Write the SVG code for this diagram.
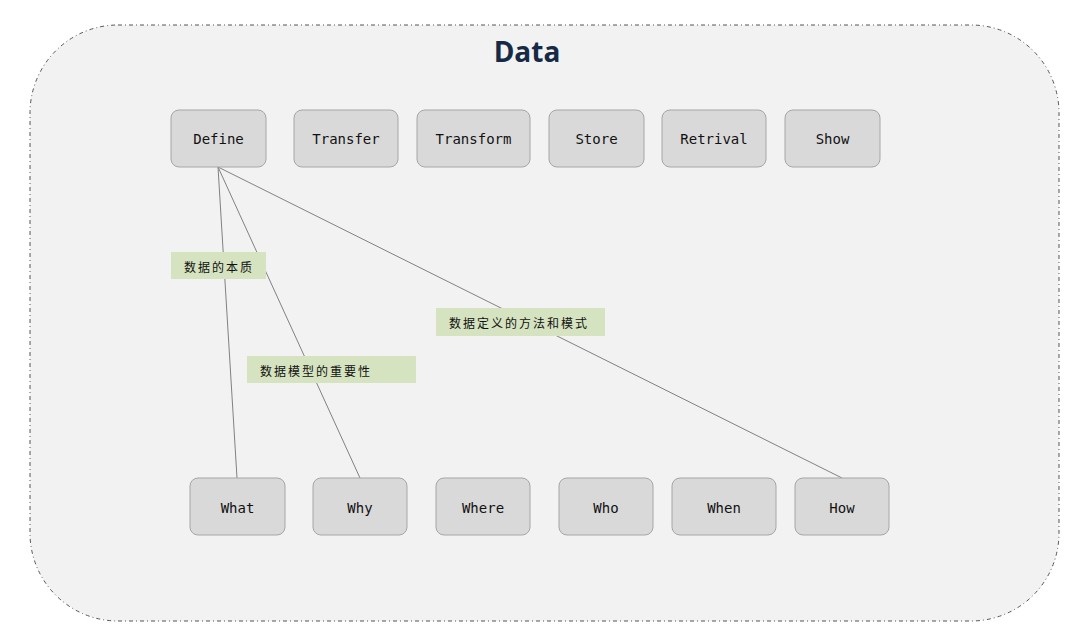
<svg xmlns="http://www.w3.org/2000/svg" width="1079" height="638" viewBox="0 0 1079 638">
<style>
.node rect{fill:#d9d9d9;stroke:#a6a6a6;stroke-width:1}
.node text{font-family:"DejaVu Sans Mono","Liberation Mono",monospace;font-size:14px;fill:#111;text-anchor:middle;dominant-baseline:central}
.lbl rect{fill:#d5e3c0;stroke:none}
.lbl text{font-family:"Noto Sans CJK SC","Noto Sans CJK JP",sans-serif;font-size:12px;fill:#111;dominant-baseline:central;letter-spacing:2px}
.conn line{stroke:#808080;stroke-width:1}
</style>
<rect x="0" y="0" width="1079" height="638" fill="#ffffff"/>
<g id="container">
<rect x="30" y="25" width="1029" height="596" rx="88" ry="88" fill="#f2f2f2" stroke="#555" stroke-width="1" stroke-dasharray="4,3,1,3"/>
<text x="527" y="62" font-family="'Open Sans','Noto Sans',sans-serif" font-weight="bold" font-size="28" fill="#172a45" text-anchor="middle">Data</text>
</g>
<g id="connectors" class="conn">
<line x1="218" y1="167" x2="237" y2="478"/>
<line x1="218" y1="167" x2="360" y2="478"/>
<line x1="218" y1="167" x2="842" y2="478"/>
</g>
<g id="node-define" class="node"><rect x="171" y="110" width="95" height="57" rx="8"/><text x="218.5" y="139">Define</text></g>
<g id="node-transfer" class="node"><rect x="294" y="110" width="104" height="57" rx="8"/><text x="346" y="139">Transfer</text></g>
<g id="node-transform" class="node"><rect x="417" y="110" width="113" height="57" rx="8"/><text x="473.5" y="139">Transform</text></g>
<g id="node-store" class="node"><rect x="549" y="110" width="95" height="57" rx="8"/><text x="596.5" y="139">Store</text></g>
<g id="node-retrival" class="node"><rect x="662" y="110" width="104" height="57" rx="8"/><text x="714" y="139">Retrival</text></g>
<g id="node-show" class="node"><rect x="785" y="110" width="95" height="57" rx="8"/><text x="832.5" y="139">Show</text></g>
<g id="node-what" class="node"><rect x="190" y="478" width="95" height="57" rx="8"/><text x="237.5" y="508">What</text></g>
<g id="node-why" class="node"><rect x="313" y="478" width="94" height="57" rx="8"/><text x="360" y="508">Why</text></g>
<g id="node-where" class="node"><rect x="436" y="478" width="94" height="57" rx="8"/><text x="483" y="508">Where</text></g>
<g id="node-who" class="node"><rect x="559" y="478" width="94" height="57" rx="8"/><text x="606" y="508">Who</text></g>
<g id="node-when" class="node"><rect x="672" y="478" width="104" height="57" rx="8"/><text x="724" y="508">When</text></g>
<g id="node-how" class="node"><rect x="795" y="478" width="94" height="57" rx="8"/><text x="842" y="508">How</text></g>
<g id="label-1" class="lbl"><rect x="171" y="252" width="95" height="27"/><text x="184" y="266">数据的本质</text></g>
<g id="label-2" class="lbl"><rect x="247" y="356" width="169" height="27"/><text x="260" y="370">数据模型的重要性</text></g>
<g id="label-3" class="lbl"><rect x="436" y="308" width="169" height="28"/><text x="449" y="322">数据定义的方法和模式</text></g>
</svg>
